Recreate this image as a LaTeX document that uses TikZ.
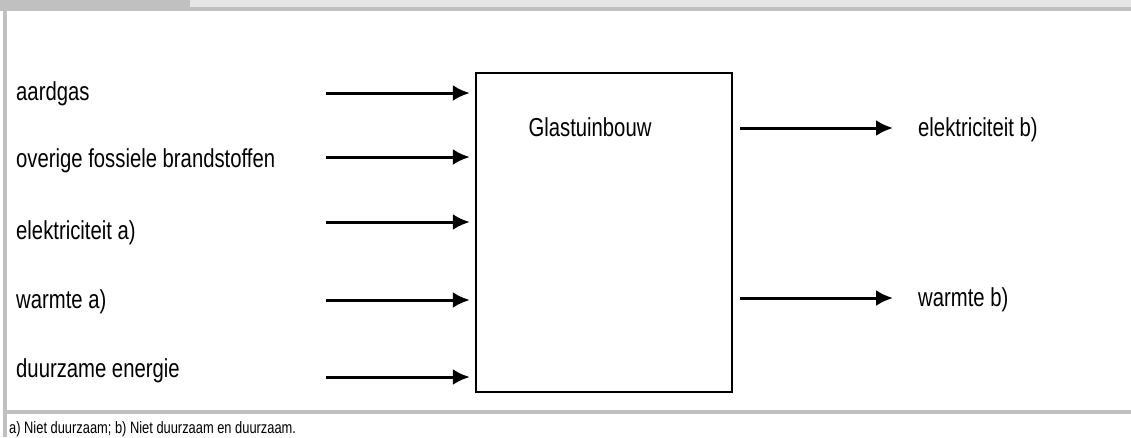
\documentclass[tikz,border=0pt]{standalone}
\usepackage{fontspec}
\setmainfont[FakeStretch=0.78]{Liberation Sans}
\usetikzlibrary{arrows.meta}
\definecolor{framegray}{HTML}{C0C0C0}
\definecolor{headgray}{HTML}{E6E6E6}
\tikzstyle{line} = [draw, line width=3pt, -{Latex[length=17pt,width=16pt]}]
\tikzstyle{flow} = [inner sep=0pt, font=\fontsize{26}{30}\selectfont]
\tikzstyle{block} = [draw, line width=2.4pt, rectangle, minimum width=256pt, minimum height=319pt, inner sep=0pt]
\tikzstyle{note} = [inner sep=0pt, font=\fontsize{16.5}{19}\selectfont]

\begin{document}
\begin{tikzpicture}[x=1pt, y=-1pt]
        \useasboundingbox (0,0) rectangle (1131,437);
        % header band and frame
        \fill[framegray] (0,0) rectangle (190,7);
        \fill[headgray] (190,0) rectangle (1131,7);
        \fill[framegray] (0,7) rectangle (1131,11);
        \fill[framegray] (3,11) rectangle (7,437);
        \fill[framegray] (3,410) rectangle (1131,414);
        % sector
        \node[block] (box) at (604,232.5) {};
        \node[flow] (title) at (590,127) {Glastuinbouw};
        % inputs
        \node[flow, anchor=base west] (gas) at (16,100) {aardgas};
        \node[flow, anchor=base west] (fossil) at (16,167) {overige fossiele brandstoffen};
        \node[flow, anchor=base west] (elecin) at (16,239) {elektriciteit a)};
        \node[flow, anchor=base west] (heatin) at (16,308) {warmte a)};
        \node[flow, anchor=base west] (renew) at (16,377) {duurzame energie};
        \coordinate (gasa) at (326,93);
        \coordinate (fossila) at (326,157);
        \coordinate (elecina) at (326,222);
        \coordinate (heatina) at (326,300);
        \coordinate (renewa) at (326,377);
        \path[line, shorten >=5pt] (gasa) -- (gasa -| box.west);
        \path[line, shorten >=5pt] (fossila) -- (fossila -| box.west);
        \path[line, shorten >=5pt] (elecina) -- (elecina -| box.west);
        \path[line, shorten >=5pt] (heatina) -- (heatina -| box.west);
        \path[line, shorten >=5pt] (renewa) -- (renewa -| box.west);
        % outputs
        \coordinate (elecouta) at (893,128);
        \coordinate (heatouta) at (893,298);
        \node[flow, anchor=base west] (elecout) at (918,136) {elektriciteit b)};
        \node[flow, anchor=base west] (heatout) at (918,306) {warmte b)};
        \path[line, shorten <=7pt] (elecouta -| box.east) -- (elecouta);
        \path[line, shorten <=7pt] (heatouta -| box.east) -- (heatouta);
        % footnote
        \node[note, anchor=base west] (foot) at (9,433) {a) Niet duurzaam; b) Niet duurzaam en duurzaam.};
\end{tikzpicture}
\end{document}
